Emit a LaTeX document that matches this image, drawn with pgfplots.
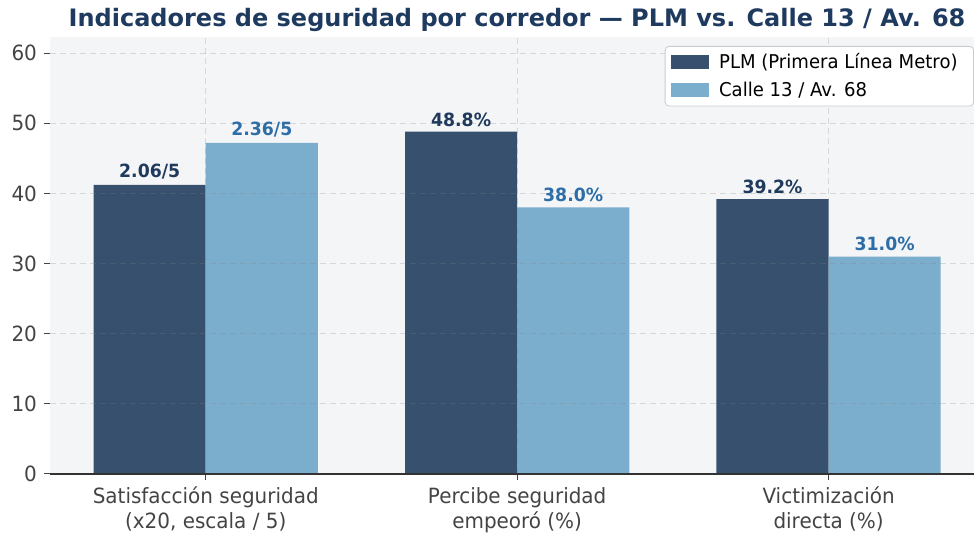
\documentclass[border=0pt]{standalone}
\usepackage{fontspec}
\setmainfont{DejaVu Sans}[FakeStretch=0.95]
\newfontfamily\titlefont{DejaVu Sans Bold}
\usepackage{pgfplots}
\pgfplotsset{compat=1.18}
\definecolor{plm}{HTML}{36506E}
\definecolor{calle}{HTML}{7BADCD}
\definecolor{plmtxt}{HTML}{1F3A5C}
\definecolor{calletxt}{HTML}{2E6EA6}
\definecolor{titlec}{HTML}{1F3A5F}
\definecolor{bgc}{HTML}{F4F5F7}
\definecolor{tickc}{HTML}{444444}
\begin{document}
\begin{tikzpicture}
\begin{axis}[
  scale only axis,
  width=462pt, height=218.5pt,
  xmin=-0.5, xmax=2.467,
  ymin=0, ymax=62.3,
  axis background/.style={fill=bgc},
  axis x line*=bottom, axis y line*=left,
  y axis line style={draw=none},
  x axis line style={draw=black!80, line width=1pt},
  tick align=outside,
  major tick length=3pt,
  tick style={draw=tickc, line width=0.5pt},
  xtick={0,1,2},
  xticklabels={{Satisfacción seguridad\\(x20, escala / 5)},{Percibe seguridad\\empeoró (\%)},{Victimización\\directa (\%)}},
  xticklabel style={align=center, font=\fontsize{10.5}{12.5}\selectfont, text=tickc},
  ytick={0,10,20,30,40,50,60},
  yticklabel style={font=\fontsize{10.5}{12.5}\selectfont, text=tickc},
  /pgf/number format/assume math mode=true,
  grid=major,
  major grid style={dash pattern=on 3pt off 2pt, draw=gray, opacity=0.25, line width=0.5pt},
  axis on top,
  title={Indicadores de seguridad por corredor — PLM vs. Calle 13 / Av. 68},
  title style={at={(0.5,1)}, anchor=base, xshift=2.5pt, yshift=-1pt, font=\fontsize{12}{14}\titlefont, text=titlec},
  ybar, bar width=0.36,
  point meta=explicit symbolic,
  nodes near coords,
  nodes near coords style={anchor=south, inner sep=2.5pt, font=\fontsize{9.1}{11}\selectfont\bfseries},
  legend style={at={(1,1)}, anchor=north east, xshift=0pt, yshift=-4.5pt, draw=black!20, rounded corners=2pt, fill=white, font=\fontsize{9.5}{11}\selectfont, inner xsep=3pt, inner ysep=1.5pt, row sep=1pt, nodes={inner xsep=5pt}},
  legend cell align=left,
  legend image code/.code={\fill[#1, sharp corners] (0pt,-3.5pt) rectangle (19pt,3.5pt);},
]
\addplot[fill=plm, draw=none, bar shift=-0.18, nodes near coords style={text=plmtxt}]
  coordinates {(0,41.2) [2.06/5] (1,48.8) [48.8\%] (2,39.2) [39.2\%]};
\addlegendentry{PLM (Primera Línea Metro)}
\addplot[fill=calle, draw=none, bar shift=0.18, nodes near coords style={text=calletxt}]
  coordinates {(0,47.2) [2.36/5] (1,38.0) [38.0\%] (2,31.0) [31.0\%]};
\addlegendentry{Calle 13 / Av. 68}
\end{axis}
\pgfresetboundingbox
\path ([xshift=-25pt,yshift=-29.5pt]current axis.south west) rectangle ([yshift=18.5pt]current axis.north east);
\end{tikzpicture}
\end{document}
